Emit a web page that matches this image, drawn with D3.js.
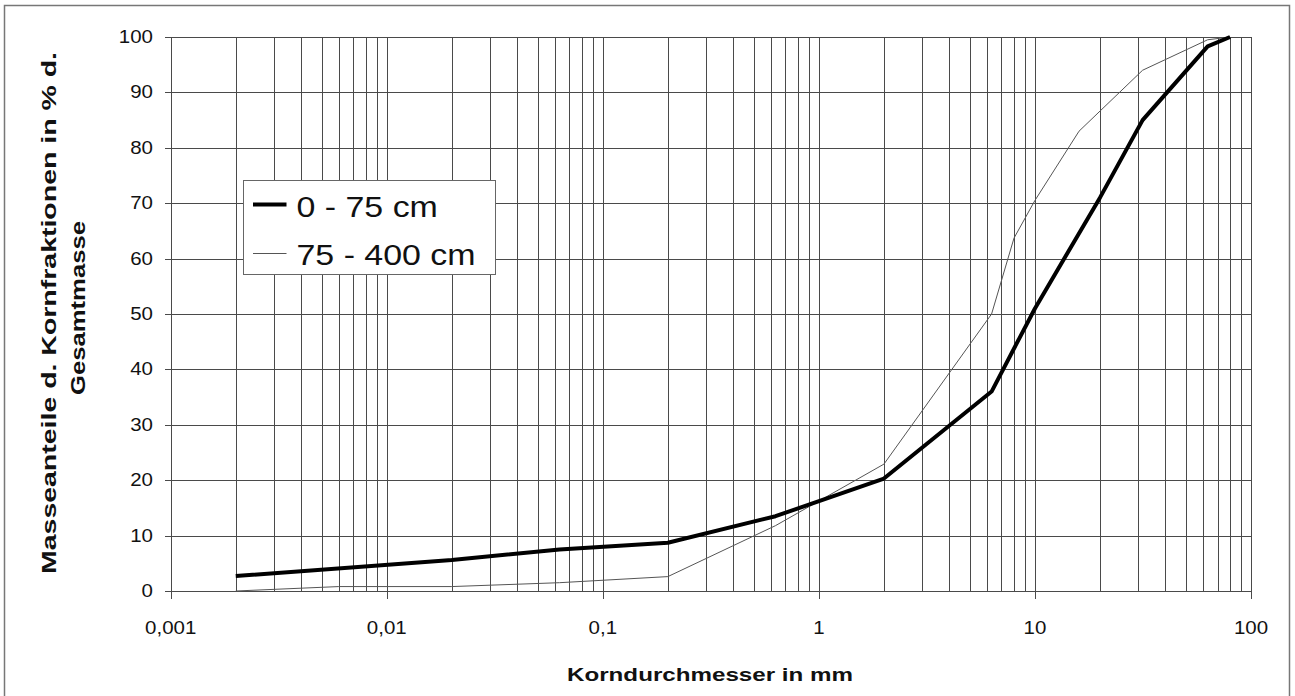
<!DOCTYPE html>
<html>
<head>
<meta charset="utf-8">
<script src="https://cdn.jsdelivr.net/npm/d3@7"></script>
<style>
  body { margin: 0; background: #fff; }
  text { font-family: "Liberation Sans", Arial, sans-serif; fill: #111; }
</style>
</head>
<body>
<svg id="chart" width="1295" height="696"></svg>
<script>
// Korngrößenverteilung - two depth layers
const grain_0_75 = [0.002, 0.02, 0.063, 0.2, 0.63, 2, 6.3, 10, 20, 31.5, 63, 80],
    pct_0_75 = [2.7, 5.6, 7.5, 8.7, 13.5, 20.3, 36, 51, 71, 85, 98.3, 100];

const grain_75_400 = [0.002, 0.006, 0.02, 0.063, 0.2, 0.63, 2, 6.3, 8, 10, 16, 31.5, 63, 80],
    pct_75_400 = [0, 0.8, 0.8, 1.5, 2.6, 11.8, 22.9, 50, 63.7, 70.5, 83, 94, 99.5, 100];

const x_major = [0.001, 0.01, 0.1, 1, 10, 100],
    x_labels = ["0,001", "0,01", "0,1", "1", "10", "100"],
    y_ticks = [0, 10, 20, 30, 40, 50, 60, 70, 80, 90, 100];

const series_names = ["0 - 75 cm", "75 - 400 cm"];

const svg = d3.select("#chart");

// Colors
const grid_col = "#4a4a4a",
    line_col = "#000",
    thin_col = "#555";

const stretch = 1.17; // glyphs in the original look horizontally widened

// Scales
const x = d3.scaleLog().domain([0.001, 100]).range([170.7, 1251]);
const y = d3.scaleLinear().domain([0, 100]).range([591, 37]);

// outer frame
svg.append("rect")
    .attr("x", 4.5).attr("y", 5.5)
    .attr("width", 1285).attr("height", 700)
    .attr("fill", "none")
    .attr("stroke", "#777")
    .attr("stroke-width", 1.5);

// Grid - vertical log lines
const grid = svg.append("g").attr("class", "grid")
    .attr("shape-rendering", "crispEdges");

grid.selectAll("line.v")
    .data(x.ticks())
    .enter().append("line")
    .attr("class", "v")
    .attr("x1", d => Math.round(x(d)) + 0.5)
    .attr("x2", d => Math.round(x(d)) + 0.5)
    .attr("y1", y(100))
    .attr("y2", d => x_major.some(m => Math.abs(m - d) / m < 1e-6) ? y(0) + 8 : y(0))
    .attr("stroke", grid_col)
    .attr("stroke-width", 1);

grid.selectAll("line.h")
    .data(y_ticks)
    .enter().append("line")
    .attr("class", "h")
    .attr("x1", x(0.001) - 6)
    .attr("x2", x(100))
    .attr("y1", d => Math.round(y(d)) + 0.5)
    .attr("y2", d => Math.round(y(d)) + 0.5)
    .attr("stroke", grid_col)
    .attr("stroke-width", 1);

// Tick labels
svg.append("g").selectAll("text")
    .data(y_ticks)
    .enter().append("text")
    .attr("transform", d => `translate(153,${y(d) + 6}) scale(${stretch},1)`)
    .attr("text-anchor", "end")
    .attr("font-size", 17.5)
    .text(d => d);

svg.append("g").selectAll("text")
    .data(x_major)
    .enter().append("text")
    .attr("transform", d => `translate(${x(d)},634) scale(${stretch},1)`)
    .attr("text-anchor", "middle")
    .attr("font-size", 17.5)
    .text((d, i) => x_labels[i]);

// Axis titles
svg.append("text")
    .attr("x", 710).attr("y", 681)
    .attr("text-anchor", "middle")
    .attr("font-size", 19)
    .attr("font-weight", "bold")
    .attr("textLength", 286)
    .attr("lengthAdjust", "spacingAndGlyphs")
    .text("Korndurchmesser in mm");

const ytitle = svg.append("g").attr("transform", "translate(0,313) rotate(-90)");
ytitle.append("text")
    .attr("x", 0).attr("y", 56)
    .attr("text-anchor", "middle")
    .attr("font-size", 20)
    .attr("font-weight", "bold")
    .attr("textLength", 522)
    .attr("lengthAdjust", "spacingAndGlyphs")
    .text("Masseanteile d. Kornfraktionen in % d.");
ytitle.append("text")
    .attr("x", 5).attr("y", 85)
    .attr("text-anchor", "middle")
    .attr("font-size", 20)
    .attr("font-weight", "bold")
    .attr("textLength", 174)
    .attr("lengthAdjust", "spacingAndGlyphs")
    .text("Gesamtmasse");

// Curves
const line = d3.line()
    .x(d => x(d[0]))
    .y(d => y(d[1]));

svg.append("path")
    .datum(d3.zip(grain_75_400, pct_75_400))
    .attr("d", line)
    .attr("fill", "none")
    .attr("stroke", thin_col)
    .attr("stroke-width", 1);

svg.append("path")
    .datum(d3.zip(grain_0_75, pct_0_75))
    .attr("d", line)
    .attr("fill", "none")
    .attr("stroke", line_col)
    .attr("stroke-width", 4)
    .attr("stroke-linejoin", "round");

// Legend
const legend = svg.append("g").attr("transform", "translate(243.5,180.5)");
legend.append("rect")
    .attr("width", 252).attr("height", 94)
    .attr("fill", "#fff")
    .attr("stroke", "#666")
    .attr("stroke-width", 1);

const leg_rows = [
    {name: series_names[0], w: 4, col: line_col, ly: 24, ty: 36},
    {name: series_names[1], w: 1, col: thin_col, ly: 73, ty: 84}
];
leg_rows.forEach(r => {
    legend.append("line")
        .attr("x1", 9.5).attr("x2", 43)
        .attr("y1", r.ly).attr("y2", r.ly)
        .attr("stroke", r.col)
        .attr("stroke-width", r.w);
    legend.append("text")
        .attr("transform", `translate(53,${r.ty}) scale(${stretch},1)`)
        .attr("font-size", 29)
        .text(r.name);
});
</script>
</body>
</html>
